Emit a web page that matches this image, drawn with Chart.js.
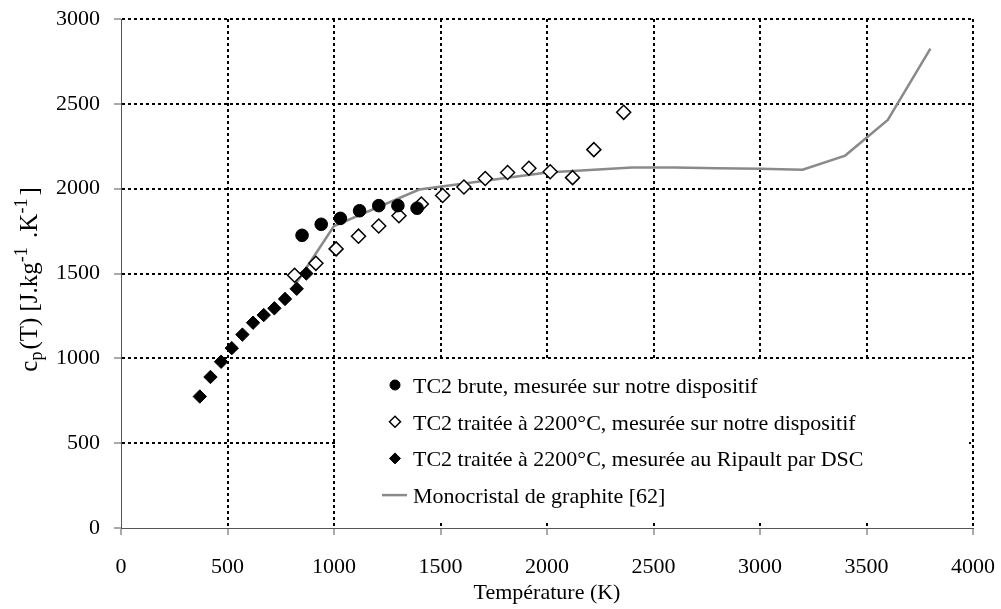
<!DOCTYPE html>
<html>
<head>
<meta charset="utf-8">
<script src="https://cdn.jsdelivr.net/npm/chart.js@4/dist/chart.umd.min.js"></script>
<style>
  html, body { margin: 0; padding: 0; background: #fff; }
  #cpChart { display: block; }
</style>
</head>
<body>
<canvas id="cpChart" width="1001" height="609"></canvas>
<script>
// TC2 brute, mesurée sur notre dispositif
const brutT = [850, 940, 1030, 1120, 1210, 1300, 1390];
const brutCp = [1725, 1790, 1825, 1870, 1900, 1900, 1885];

// TC2 traitée à 2200°C, mesurée sur notre dispositif
const traiteeT = [815, 915, 1010, 1115, 1210, 1305, 1410, 1510, 1610, 1710, 1815, 1915, 2015, 2120, 2220, 2360];
const traiteeCp = [1490, 1560, 1645, 1720, 1780, 1840, 1910, 1960, 2010, 2060, 2095, 2120, 2100, 2065, 2230, 2450];

// TC2 traitée à 2200°C, mesurée au Ripault par DSC
const dscT = [370, 420, 470, 520, 570, 620, 670, 720, 770, 825, 870];
const dscCp = [775, 890, 980, 1060, 1140, 1210, 1255, 1295, 1350, 1410, 1500];

// Monocristal de graphite [62]
const grapT = [800, 900, 1000, 1400, 2000, 2400, 2600, 2800, 3000, 3200, 3400, 3600, 3800];
const grapCp = [1400, 1590, 1780, 1995, 2095, 2125, 2125, 2120, 2118, 2112, 2195, 2405, 2825];

const xTicks = [0, 500, 1000, 1500, 2000, 2500, 3000, 3500, 4000];
const yTicks = [0, 500, 1000, 1500, 2000, 2500, 3000];

const legendLabels = [
    'TC2 brute, mesurée sur notre dispositif',
    'TC2 traitée à 2200°C, mesurée sur notre dispositif',
    'TC2 traitée à 2200°C, mesurée au Ripault par DSC',
    'Monocristal de graphite [62]'
];

const SERIF = "'Liberation Serif', 'Times New Roman', serif";
const GREY = '#8a8a8a';

function toPoints(xs, ys) {
    return xs.map((x, i) => ({ x: x, y: ys[i] }));
}

// white legend box sitting on top of the grid, bottom right of the plot
const legendBox = {
    id: 'legendBox',
    beforeDatasetsDraw(chart) {
        const { ctx, chartArea } = chart;
        const left = chartArea.left + 215;
        const top = 361;
        const right = chartArea.right - 4;
        const bottom = chartArea.bottom - 6;
        ctx.save();
        ctx.fillStyle = '#fff';
        ctx.fillRect(left, top, right - left, bottom - top);

        ctx.font = '22px ' + SERIF;
        ctx.fillStyle = '#000';
        ctx.textBaseline = 'alphabetic';
        ctx.textAlign = 'left';
        const markerX = 395;
        const textX = 413;
        legendLabels.forEach((label, i) => {
            const rowY = 385 + i * 36.7;
            const ds = chart.data.datasets[i];
            if (i === 3) {
                ctx.strokeStyle = GREY;
                ctx.lineWidth = 2.5;
                ctx.beginPath();
                ctx.moveTo(382, rowY);
                ctx.lineTo(407, rowY);
                ctx.stroke();
            } else {
                ctx.fillStyle = ds.backgroundColor;
                ctx.strokeStyle = ds.borderColor;
                ctx.lineWidth = ds.borderWidth;
                Chart.helpers.drawPoint(ctx, {
                    pointStyle: ds.pointStyle,
                    radius: i === 0 ? 5 : 5.5,
                    borderWidth: ds.borderWidth,
                    rotation: 0
                }, markerX, rowY);
            }
            ctx.fillStyle = '#000';
            ctx.fillText(label, textX, rowY + 8);
        });
        ctx.restore();
    }
};

// rotated y title with sub- and superscripts
const yTitle = {
    id: 'yTitle',
    afterDraw(chart) {
        const { ctx, chartArea } = chart;
        const big = '25px ' + SERIF;
        const small = '18px ' + SERIF;
        // [text, font, baseline shift, extra gap after]
        const parts = [
            ['c', big, 0, 0], ['p', small, 5, 2], ['(T) [J.kg', big, 0, 0], ['-1', small, -10, 3],
            [' .K', big, 0, 0], ['-1', small, -10, 3], [']', big, 0, 0]
        ];
        ctx.save();
        let total = 0;
        parts.forEach(p => { ctx.font = p[1]; total += ctx.measureText(p[0]).width + p[3]; });
        ctx.translate(37, (chartArea.top + chartArea.bottom) / 2 + 6);
        ctx.rotate(-Math.PI / 2);
        ctx.fillStyle = '#000';
        ctx.textBaseline = 'alphabetic';
        ctx.textAlign = 'left';
        let pos = -total / 2;
        parts.forEach(p => {
            ctx.font = p[1];
            ctx.fillText(p[0], pos, p[2]);
            pos += ctx.measureText(p[0]).width + p[3];
        });
        ctx.restore();
    }
};

function gridColor(c) {
    return c.tick && c.tick.value === 0 ? 'rgba(0,0,0,0)' : '#000';
}

new Chart(document.getElementById('cpChart').getContext('2d'), {
    type: 'scatter',
    data: {
        datasets: [
            {
                label: legendLabels[0],
                data: toPoints(brutT, brutCp),
                pointStyle: 'circle',
                pointRadius: 6.3,
                backgroundColor: '#000',
                borderColor: '#000',
                borderWidth: 1,
                order: 1
            },
            {
                label: legendLabels[1],
                data: toPoints(traiteeT, traiteeCp),
                pointStyle: 'rectRot',
                pointRadius: 7,
                backgroundColor: '#fff',
                borderColor: '#000',
                borderWidth: 1.5,
                order: 3
            },
            {
                label: legendLabels[2],
                data: toPoints(dscT, dscCp),
                pointStyle: 'rectRot',
                pointRadius: 6.7,
                backgroundColor: '#000',
                borderColor: '#000',
                borderWidth: 1,
                order: 2
            },
            {
                label: legendLabels[3],
                data: toPoints(grapT, grapCp),
                showLine: true,
                pointRadius: 0,
                borderColor: GREY,
                borderWidth: 2.5,
                tension: 0,
                order: 4
            }
        ]
    },
    options: {
        responsive: false,
        animation: false,
        devicePixelRatio: 1,
        layout: { padding: { left: 0, right: 28, top: 19, bottom: 0 } },
        plugins: {
            legend: { display: false },
            tooltip: { enabled: false }
        },
        scales: {
            x: {
                type: 'linear',
                min: 0,
                max: 4000,
                afterBuildTicks: scale => { scale.ticks = xTicks.map(v => ({ value: v })); },
                afterFit: scale => {
                    scale.height = 81;
                    scale.paddingLeft = 0;
                    scale.paddingRight = 0;
                },
                ticks: {
                    color: '#000',
                    font: { family: SERIF, size: 22 },
                    padding: 19,
                    autoSkip: false,
                    maxRotation: 0,
                    callback: v => String(v)
                },
                grid: {
                    color: gridColor,
                    lineWidth: 2,
                    tickLength: 7,
                    tickColor: '#555',
                    tickWidth: 1,
                    tickBorderDash: []
                },
                border: { display: true, color: '#555', width: 1, dash: [3, 3] },
                title: {
                    display: true,
                    text: 'Température (K)',
                    color: '#000',
                    font: { family: SERIF, size: 22 },
                    padding: { top: 0, bottom: 3 }
                }
            },
            y: {
                type: 'linear',
                min: 0,
                max: 3000,
                afterBuildTicks: scale => { scale.ticks = yTicks.map(v => ({ value: v })); },
                afterFit: scale => {
                    scale.width = 121;
                    scale.paddingTop = 0;
                    scale.paddingBottom = 0;
                },
                ticks: {
                    color: '#000',
                    font: { family: SERIF, size: 22 },
                    padding: 14,
                    callback: v => String(v)
                },
                grid: {
                    color: gridColor,
                    lineWidth: 2,
                    tickLength: 7,
                    tickColor: '#555',
                    tickWidth: 1,
                    tickBorderDash: []
                },
                border: { display: true, color: '#555', width: 1, dash: [3, 3] }
            }
        }
    },
    plugins: [legendBox, yTitle]
});
</script>
</body>
</html>
